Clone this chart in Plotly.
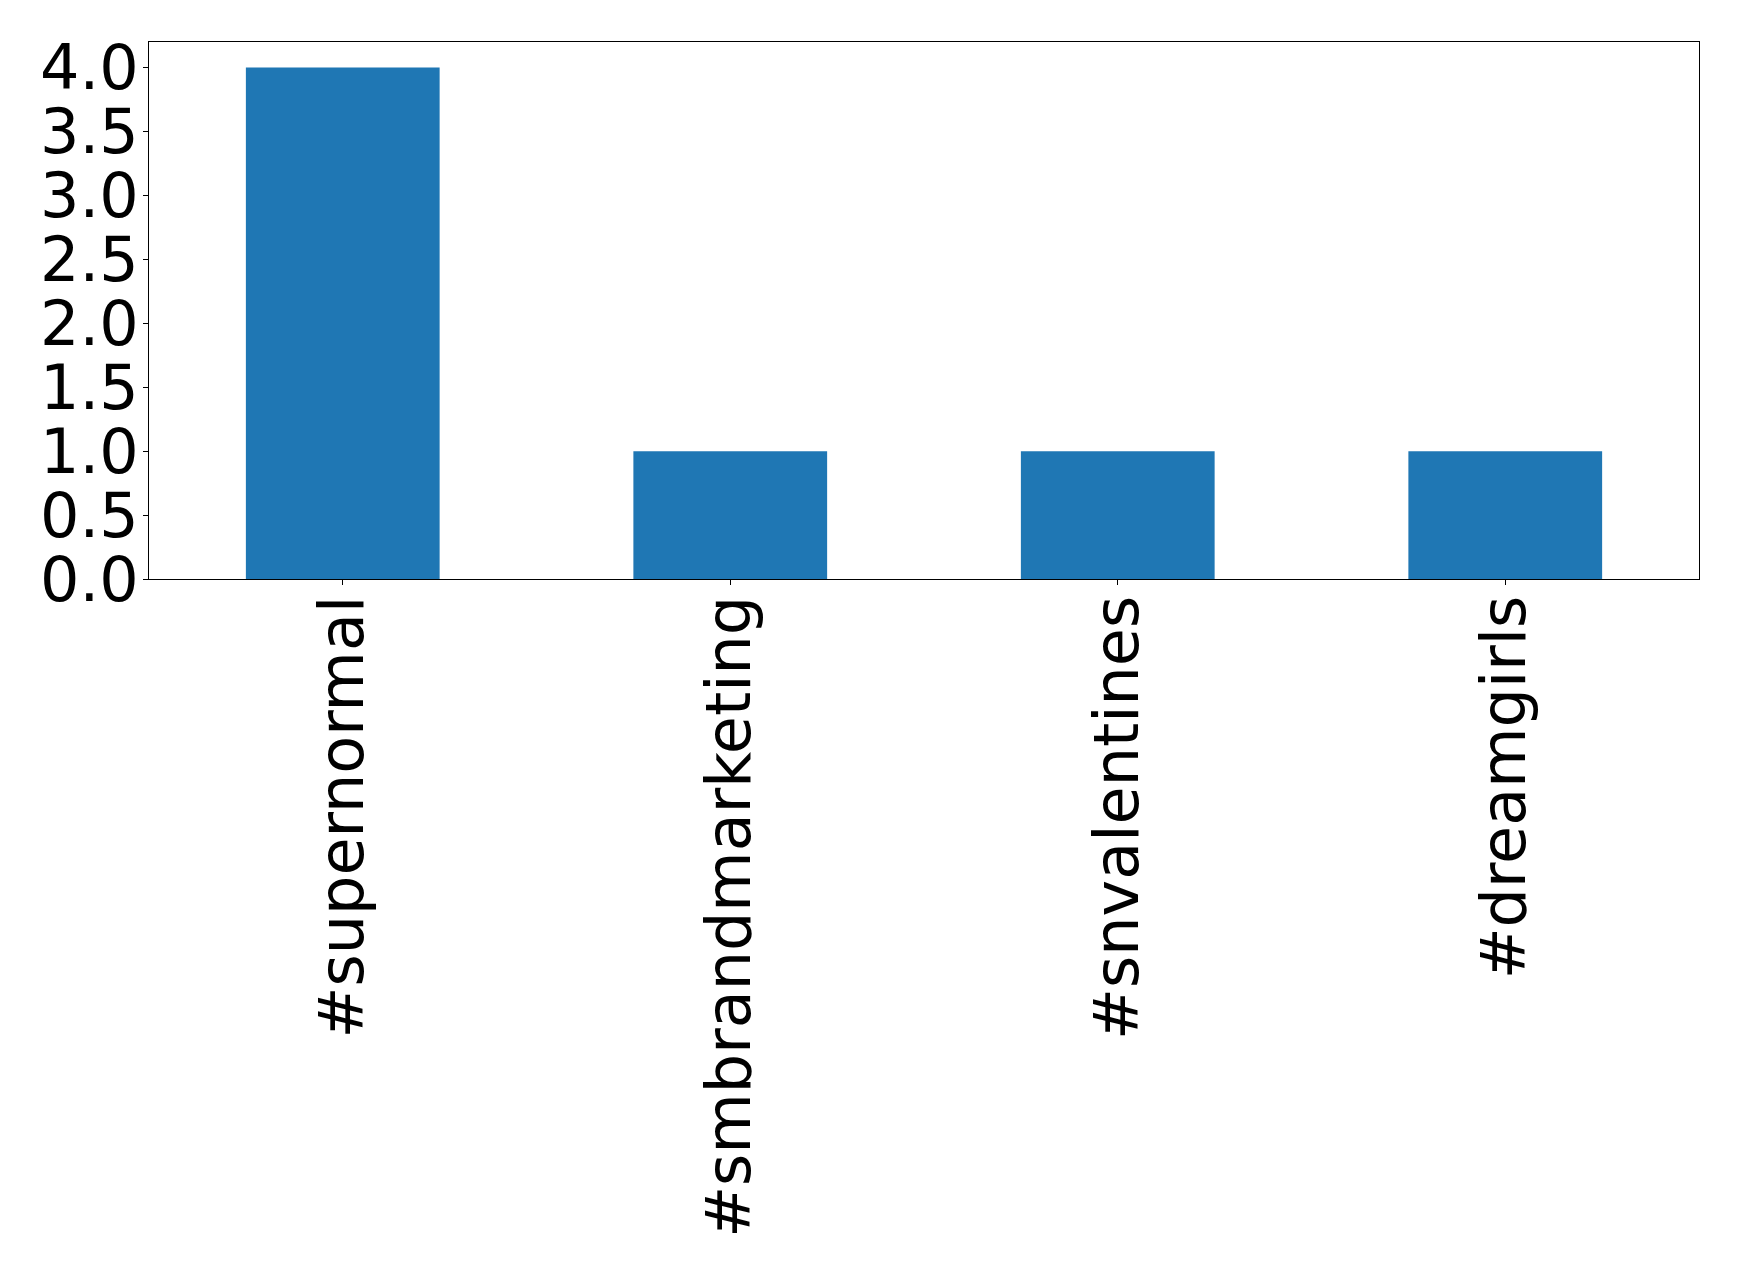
import plotly.graph_objects as go

categories = ["#supernormal", "#smbrandmarketing", "#snvalentines", "#dreamgirls"]
counts = [4, 1, 1, 1]
y_ticks = [0.0, 0.5, 1.0, 1.5, 2.0, 2.5, 3.0, 3.5, 4.0]
y_tick_labels = ["0.0", "0.5", "1.0", "1.5", "2.0", "2.5", "3.0", "3.5", "4.0"]

W, H = 1739, 1275
left, right, top, bottom = 141, 1691, 34, 571

fig = go.Figure(go.Bar(x=list(range(len(categories))), y=counts, width=0.5,
                       marker=dict(color="#1f77b4", line=dict(width=0))))

font = dict(family="DejaVu Sans", size=62, color="black")
fig.update_layout(
    width=W, height=H,
    margin=dict(l=left, r=W - right, t=top, b=H - bottom, pad=0),
    paper_bgcolor="white", plot_bgcolor="white",
    showlegend=False,
    font=font,
)
fig.update_xaxes(
    range=[-0.5, len(categories) - 0.5],
    tickmode="array", tickvals=list(range(len(categories))), ticktext=categories,
    tickangle=-90, tickfont=font, ticklabelstandoff=-14,
    ticks="outside", ticklen=5, tickwidth=1, tickcolor="black",
    showline=True, linecolor="black", linewidth=1, mirror=True,
    showgrid=False, zeroline=False,
)
fig.update_yaxes(
    range=[0, 4.2],
    tickmode="array", tickvals=y_ticks, ticktext=y_tick_labels,
    tickfont=font, ticklabelstandoff=-8,
    ticks="outside", ticklen=5, tickwidth=1, tickcolor="black",
    showline=True, linecolor="black", linewidth=1, mirror=True,
    showgrid=False, zeroline=False,
)
fig.write_html("out.html")
